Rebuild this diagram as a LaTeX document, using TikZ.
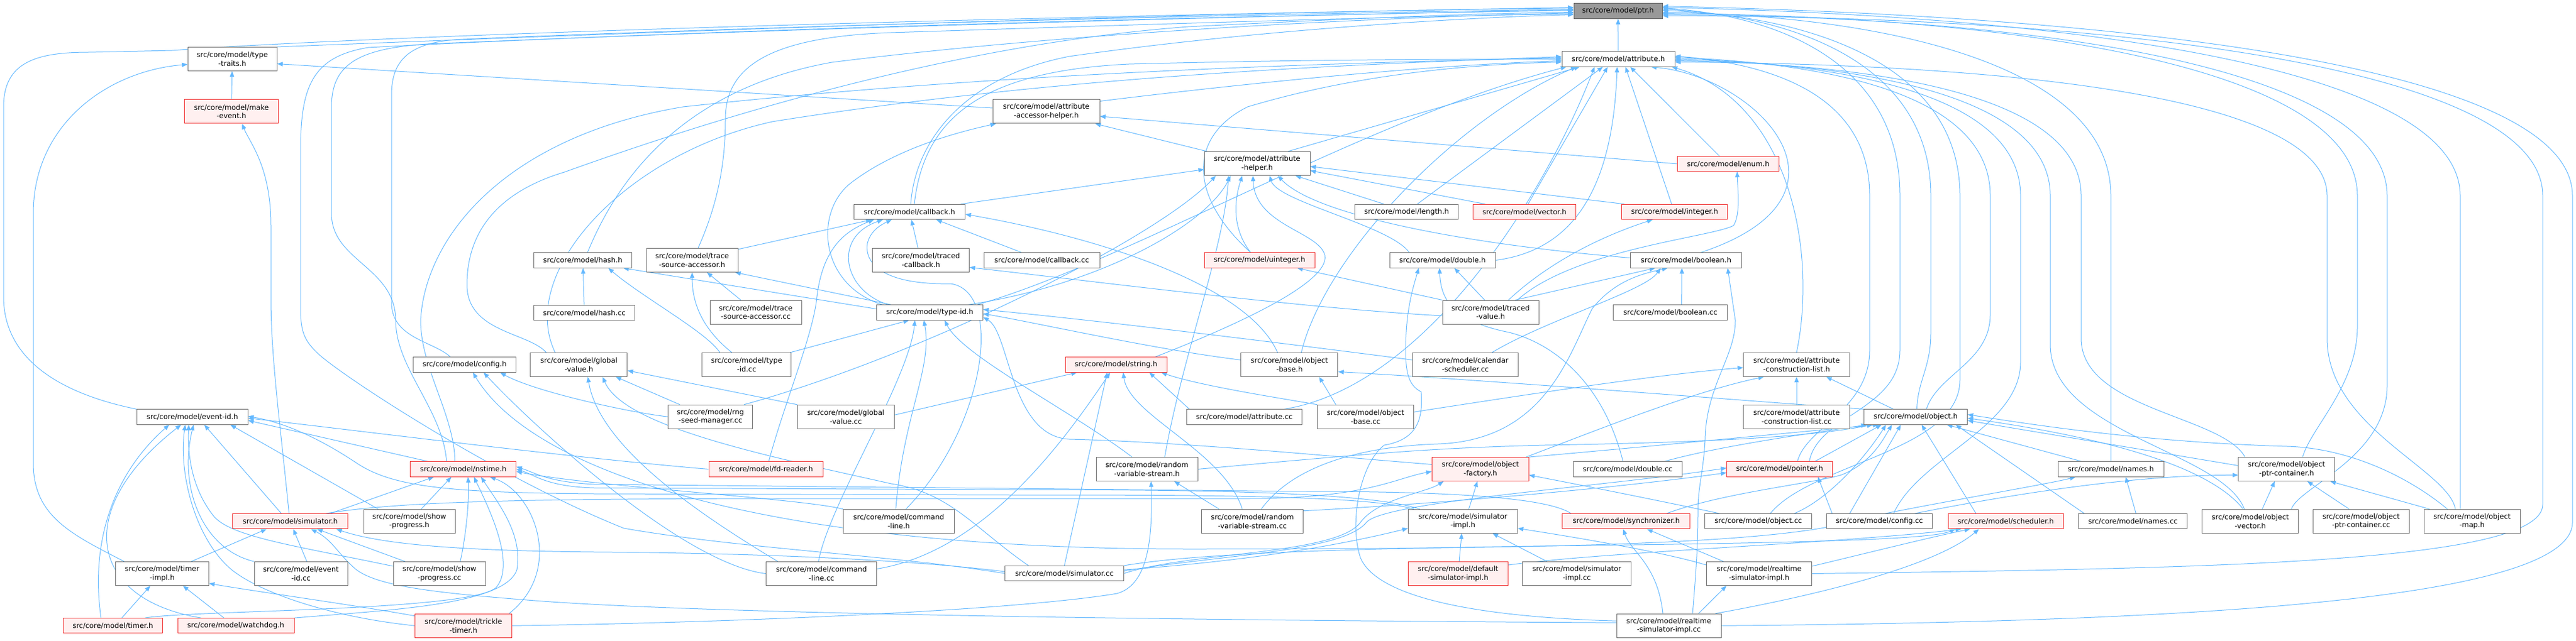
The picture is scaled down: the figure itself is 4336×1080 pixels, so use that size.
\documentclass[tikz,border=0pt]{standalone}
\usepackage{fontspec}
\setmainfont{DejaVu Sans}
\usetikzlibrary{arrows.meta,calc}
\pgfdeclarelayer{background}
\pgfsetlayers{background,main}
\definecolor{edgeblue}{RGB}{99,184,255}
\definecolor{boxline}{RGB}{110,110,110}
\definecolor{rootfill}{RGB}{153,153,153}
\definecolor{rootline}{RGB}{102,102,102}
\definecolor{truncline}{RGB}{240,50,50}
\definecolor{truncfill}{RGB}{255,240,240}
\tikzset{
  file/.style={draw=boxline, fill=white, line width=0.75pt, align=center, inner sep=1.5pt,
    minimum height=19pt, font=\fontsize{9}{11.2}\selectfont},
  two/.style={minimum height=30pt},
  trunc/.style={draw=truncline, fill=truncfill},
  root/.style={draw=rootline, fill=rootfill},
  wd/.style={minimum width=#1*0.75pt},
  dep/.style={draw=edgeblue, line width=0.75pt, -{Triangle[length=7pt,width=5.5pt]}}
}
\begin{document}
\begin{tikzpicture}[x=0.75pt,y=0.75pt]
\useasboundingbox (0,0) rectangle (4336,-1080);
% files, row by row
\node[file, root, wd=149] (ptr) at (2723.5,-18.6) {src/core/model/ptr.h};
\node[file, two, wd=150] (ttraits) at (391,-99.5) {src/core/model/type\\-traits.h};
\node[file, wd=190] (attr) at (2724,-99.5) {src/core/model/attribute.h};
\node[file, two, trunc, wd=158] (mkevent) at (389.5,-188) {src/core/model/make\\-event.h};
\node[file, two, wd=180] (aah) at (1761,-188) {src/core/model/attribute\\-accessor-helper.h};
\node[file, two, wd=178] (ahelper) at (2116,-275.5) {src/core/model/attribute\\-helper.h};
\node[file, trunc, wd=171] (enumh) at (2909,-276) {src/core/model/enum.h};
\node[file, wd=187] (cbh) at (1531,-357) {src/core/model/callback.h};
\node[file, wd=174] (lengthh) at (2367.6,-357) {src/core/model/length.h};
\node[file, trunc, wd=173] (vectorh) at (2566,-357) {src/core/model/vector.h};
\node[file, trunc, wd=178] (integerh) at (2818.7,-357) {src/core/model/integer.h};
\node[file, wd=165] (hashh) at (981,-438.5) {src/core/model/hash.h};
\node[file, two, wd=154] (tsah) at (1165,-438.5) {src/core/model/trace\\-source-accessor.h};
\node[file, two, wd=163] (tcb) at (1550,-438.5) {src/core/model/traced\\-callback.h};
\node[file, wd=195] (cbcc) at (1753.5,-438.5) {src/core/model/callback.cc};
\node[file, trunc, wd=186] (uintegerh) at (2120,-438.5) {src/core/model/uinteger.h};
\node[file, wd=178] (doubleh) at (2428,-438.5) {src/core/model/double.h};
\node[file, wd=187] (booleanh) at (2838,-438.5) {src/core/model/boolean.h};
\node[file, wd=170] (hashcc) at (983.5,-527) {src/core/model/hash.cc};
\node[file, two, wd=154] (tsacc) at (1272,-526) {src/core/model/trace\\-source-accessor.cc};
\node[file, wd=179] (typeidh) at (1565,-526.5) {src/core/model/type-id.h};
\node[file, two, wd=162] (tvalue) at (2509,-526) {src/core/model/traced\\-value.h};
\node[file, wd=192] (booleancc) at (2811.6,-526.5) {src/core/model/boolean.cc};
\node[file, wd=173] (configh) at (782,-614.5) {src/core/model/config.h};
\node[file, two, wd=163] (gvh) at (974.4,-614.4) {src/core/model/global\\-value.h};
\node[file, two, wd=150] (typeidcc) at (1256.7,-614.4) {src/core/model/type\\-id.cc};
\node[file, trunc, wd=171] (stringh) at (1878.6,-614.5) {src/core/model/string.h};
\node[file, two, wd=163] (obaseh) at (2170.4,-614.4) {src/core/model/object\\-base.h};
\node[file, two, wd=178] (calcc) at (2466.5,-614.4) {src/core/model/calendar\\-scheduler.cc};
\node[file, two, wd=179] (aclh) at (3024,-614.4) {src/core/model/attribute\\-construction-list.h};
\node[file, wd=187] (eventidh) at (323.8,-702.5) {src/core/model/event-id.h};
\node[file, two, wd=142] (rngcc) at (1195.8,-702.2) {src/core/model/rng\\-seed-manager.cc};
\node[file, two, wd=163] (gvcc) at (1423.7,-702.2) {src/core/model/global\\-value.cc};
\node[file, wd=194] (attrcc) at (2094.5,-702.5) {src/core/model/attribute.cc};
\node[file, two, wd=162] (obasecc) at (2298.5,-702.2) {src/core/model/object\\-base.cc};
\node[file, two, wd=179] (aclcc) at (3024,-702.2) {src/core/model/attribute\\-construction-list.cc};
\node[file, wd=174] (objecth) at (3224.5,-702.5) {src/core/model/object.h};
\node[file, trunc, wd=178] (nstimeh) at (779.7,-790.5) {src/core/model/nstime.h};
\node[file, trunc, wd=192] (fdreader) at (1289,-790.5) {src/core/model/fd-reader.h};
\node[file, two, wd=171] (rvsh) at (1930.5,-790.5) {src/core/model/random\\-variable-stream.h};
\node[file, two, trunc, wd=163] (ofactory) at (2491.8,-790.5) {src/core/model/object\\-factory.h};
\node[file, wd=183] (doublecc) at (2739.8,-790.5) {src/core/model/double.cc};
\node[file, trunc, wd=178] (pointerh) at (2995.5,-790.5) {src/core/model/pointer.h};
\node[file, wd=178] (namesh) at (3553,-790.5) {src/core/model/names.h};
\node[file, two, wd=162] (optrch) at (3848.8,-790.5) {src/core/model/object\\-ptr-container.h};
\node[file, trunc, wd=194] (simh) at (488.6,-878.3) {src/core/model/simulator.h};
\node[file, two, wd=154] (sprogh) at (689,-878.2) {src/core/model/show\\-progress.h};
\node[file, two, wd=187] (clh) at (1512.8,-878.2) {src/core/model/command\\-line.h};
\node[file, two, wd=171] (rvscc) at (2108,-878.2) {src/core/model/random\\-variable-stream.cc};
\node[file, two, wd=184] (simimplh) at (2462.3,-878.2) {src/core/model/simulator\\-impl.h};
\node[file, trunc, wd=215] (synch) at (2737.3,-878.3) {src/core/model/synchronizer.h};
\node[file, wd=180] (objectcc) at (2959.7,-878.3) {src/core/model/object.cc};
\node[file, wd=178] (configcc) at (3163.4,-878.3) {src/core/model/config.cc};
\node[file, trunc, wd=194] (schedh) at (3376,-878.3) {src/core/model/scheduler.h};
\node[file, wd=183] (namescc) at (3590.3,-878.3) {src/core/model/names.cc};
\node[file, two, wd=162] (ovech) at (3787.8,-878.2) {src/core/model/object\\-vector.h};
\node[file, two, wd=162] (optrccc) at (3974.2,-878.2) {src/core/model/object\\-ptr-container.cc};
\node[file, two, wd=162] (omaph) at (4161,-878.2) {src/core/model/object\\-map.h};
\node[file, two, wd=157] (timerimplh) at (273,-966.5) {src/core/model/timer\\-impl.h};
\node[file, two, wd=157] (eventidcc) at (506.5,-966.5) {src/core/model/event\\-id.cc};
\node[file, two, wd=155] (sprogcc) at (739.7,-966.5) {src/core/model/show\\-progress.cc};
\node[file, two, wd=186] (clcc) at (1382.7,-966.5) {src/core/model/command\\-line.cc};
\node[file, wd=200] (simcc) at (1791.6,-966.1) {src/core/model/simulator.cc};
\node[file, two, trunc, wd=168] (defsimh) at (2454.2,-966.5) {src/core/model/default\\-simulator-impl.h};
\node[file, two, wd=183] (simimplcc) at (2654,-966.5) {src/core/model/simulator\\-impl.cc};
\node[file, two, wd=177] (rtsimh) at (2961,-966.5) {src/core/model/realtime\\-simulator-impl.h};
\node[file, trunc, wd=167] (timerh) at (190,-1054.3) {src/core/model/timer.h};
\node[file, trunc, wd=196] (watchdogh) at (397,-1054.3) {src/core/model/watchdog.h};
\node[file, two, trunc, wd=163] (trickleh) at (780,-1054.2) {src/core/model/trickle\\-timer.h};
\node[file, two, wd=176] (rtsimcc) at (2809,-1054.2) {src/core/model/realtime\\-simulator-impl.cc};

\begin{pgfonlayer}{background}
% straight includes
\foreach \s/\t in {attr/ptr, mkevent/ttraits, hashcc/hashh, tcb/cbh, aclcc/aclh, defsimh/simimplh}
  \draw[dep] (\s) -- (\t);
% into ptr.h from the left
\draw[dep] (ttraits.north east) .. controls (900,-62) and (1900,-22) .. ($(ptr.west)+(0,5)$);
\draw[dep] (eventidh.north west) .. controls (110,-665) and (6,-610) .. (6,-500) -- (6,-180) .. controls (6,-105) and (60,-88) .. (150,-88) -- (290,-85) .. controls (600,-62) and (1500,-32) .. ($(ptr.west)+(0,6)$);
\draw[dep] ($(nstimeh.north)+(-28,0)$) .. controls (745,-690) and (666,-620) .. (666,-540) .. controls (666,-450) and (558,-440) .. (558,-360) -- (558,-180) .. controls (558,-110) and (600,-82) .. (720,-74) .. controls (1400,-45) and (2200,-25) .. ($(ptr.west)+(0,2)$);
\draw[dep] ($(configh.north)+(-24,0)$) .. controls (730,-575) and (659,-570) .. (659,-510) -- (659,-160) .. controls (659,-100) and (690,-70) .. (780,-66) .. controls (1400,-40) and (2200,-22) .. ($(ptr.west)+(0,3)$);
\draw[dep] (simcc.west) .. controls (1500,-935) and (1250,-925) .. (1050,-890) .. controls (850,-810) and (600,-650) .. (540,-600) .. controls (512,-575) and (506,-560) .. (506,-520) -- (506,-250) .. controls (506,-140) and (530,-95) .. (620,-80) .. controls (1300,-45) and (2200,-24) .. ($(ptr.west)+(0,1)$);
\draw[dep] ($(gvh.north)+(-55,0)$) .. controls (890,-560) and (786,-560) .. (786,-480) .. controls (786,-380) and (850,-320) .. (950,-290) .. controls (1200,-200) and (1600,-75) .. (2000,-45) .. controls (2300,-30) and (2500,-22) .. ($(ptr.west)+(0,-2)$);
\draw[dep] ($(hashh.north)+(8,0)$) .. controls (1040,-300) and (1150,-150) .. (1400,-105) .. controls (1800,-55) and (2300,-30) .. ($(ptr.west)+(0,-3)$);
\draw[dep] ($(tsah.north)+(10,0)$) .. controls (1210,-340) and (1221,-270) .. (1221,-200) .. controls (1221,-110) and (1300,-62) .. (1500,-55) .. controls (1900,-42) and (2400,-26) .. ($(ptr.west)+(0,-5)$);
\draw[dep] ($(cbh.north)+(2,0)$) .. controls (1540,-240) and (1620,-130) .. (1800,-95) .. controls (2100,-52) and (2450,-30) .. ($(ptr.west)+(0,-6)$);
% into ptr.h from the right
\draw[dep] (namesh.north) -- (3553,-330) .. controls (3553,-110) and (3176,-27) .. ($(ptr.east)+(0,-2)$);
\draw[dep] ($(objecth.north)+(2,0)$) .. controls (3228,-640) and (3250,-620) .. (3250,-560) -- (3250,-330) .. controls (3250,-110) and (3025,-27) .. ($(ptr.east)+(0,3)$);
\draw[dep] ($(objectcc.north)+(20,0)$) .. controls (3050,-780) and (3299,-760) .. (3299,-640) -- (3299,-330) .. controls (3299,-110) and (3050,-27) .. ($(ptr.east)+(0,1)$);
\draw[dep] ($(pointerh.north)+(50,0)$) .. controls (3060,-700) and (3198,-690) .. (3198,-590) -- (3198,-330) .. controls (3198,-110) and (3000,-27) .. ($(ptr.east)+(0,5)$);
\draw[dep] ($(optrch.north)+(27,0)$) .. controls (3890,-720) and (3968,-650) .. (3968,-550) -- (3968,-330) .. controls (3968,-110) and (3384,-27) .. ($(ptr.east)+(0,-4)$);
\draw[dep] ($(ovech.north)+(69,0)$) .. controls (3870,-820) and (4018,-770) .. (4018,-650) -- (4018,-330) .. controls (4018,-110) and (3409,-27) .. ($(ptr.east)+(0,-6)$);
\draw[dep] ($(omaph.north)+(-20,0)$) -- (4141,-330) .. controls (4141,-110) and (3470,-27) .. ($(ptr.east)+(0,6)$);
\draw[dep] (rtsimh.east) .. controls (3700,-958) and (4280,-950) .. (4280,-850) -- (4280,-330) .. controls (4280,-110) and (3540,-27) .. ($(ptr.east)+(0,-8)$);
\draw[dep] (rtsimcc.east) .. controls (3700,-1048) and (4330,-1010) .. (4330,-880) -- (4330,-330) .. controls (4330,-110) and (3565,-27) .. ($(ptr.east)+(0,8)$);
% into attribute.h
\draw[dep] ($(aah.north east)+(0,-3)$) .. controls (2100,-140) and (2400,-110) .. ($(attr.west)+(0,-3)$);
\draw[dep] ($(ahelper.north)+(52,0)$) -- ($(attr.south)+(-65,0)$);
\draw[dep] ($(enumh.north)+(-15,0)$) -- ($(attr.south)+(20,0)$);
\draw[dep] ($(cbh.north)+(8,0)$) .. controls (1555,-200) and (1650,-120) .. (1900,-108) .. controls (2200,-100) and (2450,-100) .. (attr.west);
\draw[dep] ($(lengthh.north)+(18,0)$) -- ($(attr.south)+(-26,0)$);
\draw[dep] ($(vectorh.north)+(6,0)$) -- ($(attr.south)+(-18,0)$);
\draw[dep] ($(integerh.north)+(-5,0)$) -- ($(attr.south)+(12,0)$);
\draw[dep] (doubleh.east) .. controls (2660,-420) and (2715,-300) .. ($(attr.south)+(-2,0)$);
\draw[dep] ($(booleanh.north)+(25,0)$) .. controls (3150,-330) and (2960,-130) .. ($(attr.south)+(55,0)$);
\draw[dep] (aclh.north) .. controls (3060,-420) and (3010,-170) .. ($(attr.south)+(90,0)$);
\draw[dep] ($(uintegerh.north)+(-15,0)$) .. controls (2000,-330) and (2000,-230) .. (2100,-180) .. controls (2300,-120) and (2500,-108) .. ($(attr.west)+(0,-5)$);
\draw[dep] ($(typeidh.north east)+(-10,0)$) .. controls (1900,-440) and (2300,-200) .. ($(attr.south west)+(8,0)$);
\draw[dep] ($(nstimeh.north)+(-14,0)$) .. controls (765,-700) and (708,-620) .. (708,-540) .. controls (715,-400) and (850,-230) .. (1150,-180) .. controls (1700,-120) and (2300,-105) .. ($(attr.west)+(0,2)$);
\draw[dep] ($(gvh.north)+(-40,0)$) .. controls (870,-460) and (1050,-260) .. (1300,-205) .. controls (1800,-125) and (2300,-108) .. ($(attr.west)+(0,4)$);
\draw[dep] ($(obaseh.north)+(20,0)$) .. controls (2230,-430) and (2450,-200) .. ($(attr.south west)+(25,0)$);
\draw[dep] ($(attrcc.north east)+(-30,0)$) .. controls (2400,-650) and (2600,-330) .. ($(attr.south)+(-40,0)$);
\draw[dep] ($(pointerh.north)+(30,0)$) .. controls (3040,-720) and (3147,-690) .. (3147,-590) -- (3147,-330) .. controls (3147,-160) and (2983,-108) .. ($(attr.east)+(0,5)$);
\draw[dep] ($(objecth.north)+(18,0)$) .. controls (3262,-630) and (3350,-610) .. (3350,-530) -- (3350,-330) .. controls (3350,-160) and (3085,-108) .. ($(attr.east)+(0,3)$);
\draw[dep] ($(configcc.north)+(24,0)$) .. controls (3230,-770) and (3401,-720) .. (3401,-610) -- (3401,-330) .. controls (3401,-160) and (3110,-108) .. ($(attr.east)+(0,1)$);
\draw[dep] ($(ovech.north)+(-10,0)$) .. controls (3740,-760) and (3451,-730) .. (3451,-580) -- (3451,-330) .. controls (3451,-160) and (3135,-108) .. ($(attr.east)+(0,-1)$);
\draw[dep] ($(optrch.north)+(-70,0)$) .. controls (3740,-700) and (3503,-690) .. (3503,-570) -- (3503,-330) .. controls (3503,-160) and (3161,-108) .. ($(attr.east)+(0,-3)$);
\draw[dep] ($(omaph.north)+(-28,0)$) .. controls (4120,-790) and (3917,-720) .. (3917,-570) -- (3917,-330) .. controls (3917,-160) and (3368,-108) .. ($(attr.east)+(0,-5)$);
% type-traits.h, attribute-accessor-helper.h
\draw[dep] ($(aah.west)+(0,6)$) -- ($(ttraits.east)+(0,-8)$);
\draw[dep] ($(timerimplh.north west)+(15,0)$) .. controls (120,-900) and (56,-870) .. (56,-780) -- (56,-360) .. controls (56,-210) and (180,-120) .. ($(ttraits.west)+(0,-9)$);
\draw[dep] ($(ahelper.north west)+(5,0)$) -- ($(aah.south east)+(-8,0)$);
\draw[dep] (enumh.west) -- ($(aah.east)+(0,-8)$);
\draw[dep] ($(typeidh.north west)+(10,0)$) .. controls (1380,-480) and (1370,-360) .. (1430,-310) .. controls (1500,-255) and (1600,-225) .. ($(aah.south west)+(6,0)$);
% attribute-helper.h
\draw[dep] ($(cbh.north east)+(-8,0)$) -- ($(ahelper.west)+(0,-10)$);
\draw[dep] ($(lengthh.north)+(-38,0)$) -- ($(ahelper.south east)+(-25,0)$);
\draw[dep] ($(vectorh.north)+(-66,0)$) -- ($(ahelper.east)+(0,-12)$);
\draw[dep] ($(integerh.north west)+(5,0)$) -- ($(ahelper.east)+(0,-5)$);
\draw[dep] ($(uintegerh.north)+(-15,0)$) .. controls (2070,-380) and (2080,-330) .. ($(ahelper.south)+(-25,0)$);
\draw[dep] ($(doubleh.north)+(-56,0)$) .. controls (2340,-380) and (2150,-340) .. ($(ahelper.south)+(21,0)$);
\draw[dep] ($(booleanh.west)+(0,4)$) .. controls (2450,-410) and (2210,-360) .. ($(ahelper.south)+(35,0)$);
\draw[dep] ($(typeidh.north east)+(-25,0)$) .. controls (1850,-480) and (2030,-380) .. ($(ahelper.south west)+(45,0)$);
\draw[dep] ($(stringh.north east)+(-20,0)$) .. controls (2050,-560) and (2240,-480) .. (2230,-430) .. controls (2220,-390) and (2112,-380) .. ($(ahelper.south)+(-7,0)$);
\draw[dep] ($(rngcc.north east)+(-15,0)$) .. controls (1550,-600) and (1950,-400) .. ($(ahelper.south west)+(20,0)$);
\draw[dep] ($(rvsh.north)+(30,0)$) .. controls (1990,-600) and (2060,-420) .. ($(ahelper.south)+(-48,0)$);
% callback.h
\draw[dep] ($(tsah.north east)+(0,-2)$) -- ($(cbh.south west)+(30,0)$);
\draw[dep] ($(cbcc.north)+(-34,0)$) -- ($(cbh.south)+(45,0)$);
\draw[dep] ($(typeidh.north west)+(20,0)$) .. controls (1420,-490) and (1400,-400) .. ($(cbh.south)+(-45,0)$);
\draw[dep] ($(fdreader.north)+(5,0)$) .. controls (1320,-680) and (1370,-560) .. (1375,-500) .. controls (1385,-420) and (1420,-390) .. ($(cbh.south)+(-60,0)$);
\draw[dep] ($(obaseh.north)+(-20,0)$) .. controls (2100,-480) and (1850,-400) .. ($(cbh.east)+(0,-4)$);
\draw[dep] ($(clh.north)+(12,0)$) .. controls (1660,-720) and (1690,-490) .. (1600,-478) .. controls (1480,-480) and (1455,-440) .. (1460,-410) .. controls (1465,-390) and (1480,-380) .. ($(cbh.south)+(-30,0)$);
% hash.h, trace-source-accessor.h
\draw[dep] ($(typeidh.west)+(0,6)$) -- ($(hashh.south east)+(-15,0)$);
\draw[dep] ($(typeidcc.north)+(-45,0)$) .. controls (1190,-560) and (1080,-500) .. ($(hashh.south east)+(-40,0)$);
\draw[dep] (tsacc) -- ($(tsah.south)+(25,0)$);
\draw[dep] ($(typeidh.north west)+(25,0)$) -- ($(tsah.south east)+(-5,0)$);
\draw[dep] ($(typeidcc.north)+(-25,0)$) .. controls (1190,-560) and (1165,-520) .. (tsah.south);
% traced-value.h and boolean.cc
\draw[dep] ($(tvalue.north)+(-10,0)$) -- ($(doubleh.south)+(20,0)$);
\draw[dep] ($(tvalue.north east)+(-40,0)$) -- ($(booleanh.south)+(-52,0)$);
\draw[dep] ($(tvalue.north)+(30,0)$) .. controls (2620,-430) and (2720,-390) .. ($(integerh.south)+(-37,0)$);
\draw[dep] ($(tvalue.north)+(45,0)$) .. controls (2650,-420) and (2880,-400) .. (2918,-380) .. controls (2930,-360) and (2925,-320) .. ($(enumh.south)+(15,0)$);
\draw[dep] (tvalue.north west) -- ($(uintegerh.south east)+(-30,0)$);
\draw[dep] ($(tvalue.west)+(0,-6)$) .. controls (2200,-520) and (1850,-475) .. ($(tcb.east)+(0,-12)$);
\draw[dep] ($(booleancc.north)+(19,0)$) -- ($(booleanh.south)+(-7,0)$);
% object-base.h, type-id.h, calendar-scheduler.cc
\draw[dep] ($(obasecc.north)+(-50,0)$) -- ($(obaseh.south)+(50,0)$);
\draw[dep] (objecth.north west) .. controls (3000,-680) and (2500,-640) .. ($(obaseh.east)+(0,-12)$);
\draw[dep] ($(obaseh.west)+(0,8)$) .. controls (1950,-590) and (1750,-545) .. ($(typeidh.east)+(0,-2)$);
\draw[dep] ($(calcc.west)+(0,8)$) .. controls (2250,-590) and (1900,-545) .. ($(typeidh.east)+(0,5)$);
\draw[dep] ($(calcc.north)+(45,0)$) .. controls (2600,-540) and (2770,-490) .. ($(booleanh.south)+(-43,0)$);
\draw[dep] ($(typeidcc.north east)+(-2,0)$) -- ($(typeidh.south)+(-35,0)$);
\draw[dep] ($(rvsh.north)+(-25,0)$) .. controls (1800,-690) and (1620,-600) .. ($(typeidh.south)+(25,0)$);
\draw[dep] ($(clh.north)+(-5,0)$) .. controls (1520,-700) and (1570,-620) .. ($(typeidh.south)+(-10,0)$);
\draw[dep] ($(clcc.north)+(-5,0)$) .. controls (1395,-850) and (1530,-640) .. ($(typeidh.south)+(-25,0)$);
\draw[dep] ($(ofactory.west)+(0,8)$) .. controls (2250,-770) and (2000,-745) .. (1800,-740) .. controls (1700,-735) and (1700,-560) .. ($(typeidh.east)+(0,-8)$);
% string.h
\draw[dep] ($(gvcc.east)+(0,3)$) -- ($(stringh.south west)+(20,0)$);
\draw[dep] ($(attrcc.north west)+(5,0)$) -- ($(stringh.south east)+(-30,0)$);
\draw[dep] (obasecc.north west) .. controls (2150,-670) and (2020,-650) .. ($(stringh.south east)+(-10,0)$);
\draw[dep] ($(rvscc.north)+(-17,0)$) .. controls (2060,-760) and (1900,-700) .. ($(stringh.south)+(12,0)$);
\draw[dep] ($(clcc.east)+(0,8)$) .. controls (1650,-930) and (1780,-760) .. ($(stringh.south)+(-10,0)$);
\draw[dep] (simcc.north) -- ($(stringh.south)+(-15,0)$);
% global-value.h, config.h
\draw[dep] ($(rngcc.north west)+(20,0)$) -- ($(gvh.south east)+(-20,0)$);
\draw[dep] (gvcc.north west) -- ($(gvh.east)+(0,-10)$);
\draw[dep] ($(clcc.north west)+(20,0)$) .. controls (1200,-880) and (1010,-760) .. ($(gvh.south)+(15,0)$);
\draw[dep] ($(simcc.north west)+(40,0)$) .. controls (1640,-890) and (1600,-830) .. (1500,-815) .. controls (1300,-770) and (1050,-720) .. ($(gvh.south)+(40,0)$);
\draw[dep] (rngcc.west) .. controls (1060,-695) and (900,-660) .. ($(configh.south)+(60,0)$);
\draw[dep] (clcc.west) .. controls (1150,-950) and (900,-720) .. ($(configh.south)+(32,0)$);
\draw[dep] ($(configcc.south west)+(0,3)$) .. controls (2900,-920) and (2500,-925) .. (2000,-925) .. controls (1300,-925) and (900,-800) .. ($(configh.south)+(14,0)$);
% event-id.h
\draw[dep] ($(nstimeh.north west)+(30,0)$) -- ($(eventidh.east)+(0,-6)$);
\draw[dep] (fdreader.west) .. controls (950,-770) and (600,-725) .. ($(eventidh.east)+(0,-2)$);
\draw[dep] ($(simimplh.north west)+(10,0)$) .. controls (2300,-834) and (2000,-834) .. (1700,-834) -- (1000,-832) .. controls (750,-830) and (660,-820) .. (600,-780) .. controls (540,-740) and (480,-712) .. ($(eventidh.east)+(0,1)$);
\draw[dep] ($(simh.north)+(-15,0)$) -- ($(eventidh.south)+(20,0)$);
\draw[dep] ($(sprogh.north west)+(25,0)$) -- ($(eventidh.south east)+(-30,0)$);
\draw[dep] (eventidcc.north west) .. controls (340,-925) and (300,-820) .. ($(eventidh.south)+(2,0)$);
\draw[dep] ($(sprogcc.north west)+(0,-8)$) .. controls (500,-920) and (390,-905) .. (360,-870) .. controls (320,-820) and (316,-760) .. ($(eventidh.south)+(-6,0)$);
\draw[dep] ($(timerh.north)+(-20,0)$) .. controls (150,-900) and (200,-790) .. ($(eventidh.south west)+(55,0)$);
\draw[dep] ($(watchdogh.north west)+(40,0)$) .. controls (150,-1010) and (120,-860) .. ($(eventidh.south west)+(75,0)$);
\draw[dep] (trickleh.west) .. controls (560,-1040) and (440,-1000) .. (390,-960) .. controls (330,-910) and (300,-800) .. ($(eventidh.south)+(-12,0)$);
% nstime.h
\draw[dep] ($(simh.north east)+(-30,0)$) -- ($(nstimeh.south west)+(40,0)$);
\draw[dep] ($(sprogh.north)+(20,0)$) -- ($(nstimeh.south)+(-20,0)$);
\draw[dep] ($(sprogcc.north)+(35,0)$) .. controls (785,-900) and (790,-840) .. ($(nstimeh.south)+(8,0)$);
\draw[dep] ($(timerh.north east)+(-30,0)$) .. controls (320,-1028) and (790,-1030) .. (835,-990) .. controls (870,-950) and (820,-850) .. ($(nstimeh.south)+(18,0)$);
\draw[dep] (watchdogh.north east) .. controls (650,-1028) and (850,-1020) .. (870,-960) .. controls (880,-900) and (840,-850) .. ($(nstimeh.south)+(30,0)$);
\draw[dep] ($(trickleh.north east)+(-5,0)$) .. controls (950,-960) and (900,-830) .. ($(nstimeh.south)+(45,0)$);
\draw[dep] (clh.north west) .. controls (1350,-840) and (1000,-820) .. ($(nstimeh.east)+(0,-4)$);
\draw[dep] ($(simimplh.north west)+(20,0)$) .. controls (2300,-828) and (2000,-825) .. (1700,-825) -- (1000,-822) .. controls (920,-820) and (900,-800) .. (nstimeh.east);
\draw[dep] ($(synch.north west)+(15,0)$) .. controls (2600,-835) and (2400,-828) .. (2200,-828) -- (1000,-816) .. controls (920,-812) and (900,-796) .. ($(nstimeh.east)+(0,4)$);
% simulator.h, make-event.h, timer-impl.h
\draw[dep] ($(timerimplh.north east)+(-30,0)$) -- ($(simh.south)+(-40,0)$);
\draw[dep] ($(eventidcc.north)+(10,0)$) -- ($(simh.south)+(5,0)$);
\draw[dep] ($(sprogcc.north west)+(20,0)$) -- ($(simh.south)+(45,0)$);
\draw[dep] ($(simcc.west)+(0,3)$) .. controls (1550,-945) and (1300,-932) .. (1000,-930) .. controls (800,-928) and (650,-920) .. ($(simh.south east)+(-20,0)$);
\draw[dep] ($(rtsimcc.west)+(0,5)$) .. controls (2000,-1045) and (1200,-1035) .. (900,-1012) .. controls (750,-1000) and (640,-990) .. (600,-960) .. controls (570,-935) and (560,-910) .. ($(simh.south)+(35,0)$);
\draw[dep] ($(simh.north)+(-2,0)$) .. controls (470,-700) and (456,-600) .. (456,-500) -- (456,-380) .. controls (456,-280) and (420,-240) .. ($(mkevent.south)+(18,0)$);
\draw[dep] ($(timerh.north)+(15,0)$) -- ($(timerimplh.south)+(-20,0)$);
\draw[dep] ($(watchdogh.north)+(-20,0)$) -- ($(timerimplh.south)+(35,0)$);
\draw[dep] ($(trickleh.north west)+(0,-4)$) .. controls (600,-1020) and (420,-995) .. ($(timerimplh.south east)+(0,4)$);
% random-variable-stream.h, object-factory.h
\draw[dep] ($(rvscc.north west)+(30,0)$) -- ($(rvsh.south east)+(-40,0)$);
\draw[dep] (trickleh.east) .. controls (1200,-1050) and (1700,-1030) .. (1880,-1000) .. controls (1935,-985) and (1940,-900) .. ($(rvsh.south)+(7,0)$);
\draw[dep] (rvsh.east) .. controls (2300,-765) and (2400,-755) .. (2600,-750) .. controls (2900,-745) and (3050,-735) .. ($(objecth.south west)+(15,0)$);
\draw[dep] ($(simimplh.north)+(10,0)$) -- ($(ofactory.south)+(-5,0)$);
\draw[dep] ($(simh.north)+(60,0)$) .. controls (700,-840) and (1000,-840) .. (1500,-840) -- (2100,-840) .. controls (2300,-840) and (2350,-805) .. ($(ofactory.west)+(0,-4)$);
\draw[dep] ($(objectcc.north west)+(25,0)$) .. controls (2800,-845) and (2650,-815) .. ($(ofactory.east)+(0,-10)$);
\draw[dep] (simcc.east) .. controls (2000,-930) and (2250,-935) .. (2290,-880) .. controls (2320,-840) and (2400,-830) .. ($(ofactory.south west)+(20,0)$);
% object.h and attribute-construction-list.h
\draw[dep] ($(objecth.north west)+(50,0)$) -- ($(aclh.south east)+(-40,0)$);
\draw[dep] ($(ofactory.north east)+(-5,0)$) .. controls (2700,-720) and (2850,-660) .. ($(aclh.south)+(-55,0)$);
\draw[dep] ($(obasecc.east)+(0,8)$) .. controls (2600,-660) and (2800,-630) .. ($(aclh.west)+(0,-5)$);
\draw[dep] (ofactory.north east) .. controls (2750,-755) and (3000,-730) .. ($(objecth.south west)+(25,0)$);
\draw[dep] ($(doublecc.north east)+(-30,0)$) .. controls (2900,-750) and (3050,-730) .. ($(objecth.south west)+(5,0)$);
\draw[dep] ($(pointerh.north east)+(-30,0)$) -- ($(objecth.south west)+(30,0)$);
\draw[dep] ($(namesh.north west)+(40,0)$) -- ($(objecth.south east)+(-35,0)$);
\draw[dep] ($(optrch.west)+(0,6)$) -- ($(objecth.east)+(0,-6)$);
\draw[dep] ($(synch.north east)+(-40,0)$) .. controls (2900,-830) and (3050,-815) .. (3100,-800) .. controls (3150,-780) and (3170,-740) .. ($(objecth.south)+(-40,0)$);
\draw[dep] ($(objectcc.north east)+(-30,0)$) .. controls (3080,-840) and (3140,-770) .. ($(objecth.south)+(-50,0)$);
\draw[dep] ($(configcc.north)+(-50,0)$) -- ($(objecth.south)+(-25,0)$);
\draw[dep] ($(schedh.north)+(-50,0)$) -- ($(objecth.south)+(10,0)$);
\draw[dep] ($(namescc.north west)+(10,0)$) -- ($(objecth.south east)+(-20,0)$);
\draw[dep] ($(ovech.north)+(-12,0)$) .. controls (3730,-800) and (3600,-745) .. ($(objecth.east)+(0,-2)$);
\draw[dep] ($(omaph.north west)+(40,0)$) .. controls (4050,-800) and (3950,-755) .. (3850,-752) .. controls (3600,-745) and (3400,-712) .. ($(objecth.east)+(0,4)$);
% double.h
\draw[dep] ($(doublecc.north)+(-8,0)$) .. controls (2700,-650) and (2620,-580) .. (2540,-560) .. controls (2440,-540) and (2425,-500) .. ($(doubleh.south)+(-5,0)$);
% names.h, object-ptr-container.h, pointer.h
\draw[dep] ($(namescc.north)+(5,0)$) -- ($(namesh.south)+(25,0)$);
\draw[dep] ($(configcc.north)+(10,0)$) .. controls (3300,-840) and (3450,-815) .. ($(namesh.south west)+(30,0)$);
\draw[dep] ($(configcc.north east)+(-30,0)$) .. controls (3400,-830) and (3600,-800) .. ($(optrch.west)+(0,-10)$);
\draw[dep] ($(ovech.north)+(20,0)$) -- ($(optrch.south)+(-20,0)$);
\draw[dep] ($(optrccc.north)+(-20,0)$) -- ($(optrch.south)+(35,0)$);
\draw[dep] ($(omaph.north west)+(10,0)$) -- ($(optrch.south east)+(-8,0)$);
\draw[dep] ($(configcc.north west)+(10,0)$) -- ($(pointerh.south east)+(-25,0)$);
\draw[dep] ($(rvscc.north east)+(0,-3)$) .. controls (2400,-850) and (2700,-825) .. ($(pointerh.west)+(0,-6)$);
\draw[dep] ($(simcc.east)+(0,4)$) .. controls (2050,-935) and (2260,-930) .. (2300,-880) .. controls (2330,-845) and (2700,-820) .. ($(pointerh.west)+(0,2)$);
% boolean.h and double.h from the .cc files below
\draw[dep] ($(rvscc.north)+(15,0)$) .. controls (2180,-780) and (2300,-752) .. (2420,-748) .. controls (2600,-742) and (2640,-600) .. (2680,-520) .. controls (2720,-470) and (2770,-460) .. ($(booleanh.south)+(-31,0)$);
\draw[dep] ($(rtsimcc.north)+(40,0)$) .. controls (2855,-960) and (2858,-920) .. (2858,-860) .. controls (2858,-820) and (2868,-790) .. (2870,-740) .. controls (2872,-650) and (2921,-600) .. (2921,-540) -- ($(booleanh.south)+(70,0)$);
\draw[dep] ($(rtsimcc.west)+(0,8)$) .. controls (2500,-1040) and (2320,-1010) .. (2290,-940) .. controls (2270,-880) and (2290,-780) .. (2330,-750) .. controls (2390,-740) and (2395,-700) .. (2392,-660) .. controls (2372,-650) and (2366,-630) .. (2366,-590) .. controls (2366,-520) and (2380,-480) .. ($(doubleh.south)+(-40,0)$);
% scheduler.h, synchronizer.h, simulator-impl.h, realtime-simulator-impl.h
\draw[dep] (simcc.north east) .. controls (2000,-935) and (2200,-925) .. (2600,-920) .. controls (3000,-915) and (3250,-910) .. ($(schedh.south)+(-85,0)$);
\draw[dep] ($(defsimh.north east)+(0,-6)$) .. controls (2700,-930) and (3100,-915) .. ($(schedh.south)+(-75,0)$);
\draw[dep] ($(rtsimh.north east)+(0,-8)$) .. controls (3150,-930) and (3250,-905) .. ($(schedh.south)+(-60,0)$);
\draw[dep] ($(rtsimcc.north east)+(-10,0)$) .. controls (3020,-1010) and (3250,-960) .. ($(schedh.south)+(-45,0)$);
\draw[dep] ($(rtsimh.north)+(-60,0)$) -- ($(synch.south)+(35,0)$);
\draw[dep] ($(rtsimcc.north)+(-10,0)$) .. controls (2790,-950) and (2745,-930) .. ($(synch.south)+(-5,0)$);
\draw[dep] ($(rtsimcc.north)+(50,0)$) -- ($(rtsimh.south)+(-55,0)$);
\draw[dep] ($(rtsimh.north west)+(0,-6)$) .. controls (2800,-930) and (2650,-905) .. ($(simimplh.east)+(0,-12)$);
\draw[dep] ($(simimplcc.north)+(-50,0)$) -- ($(simimplh.south)+(50,0)$);
\draw[dep] ($(simcc.east)+(0,6)$) .. controls (2100,-945) and (2250,-920) .. ($(simimplh.west)+(0,-12)$);
\end{pgfonlayer}
\end{tikzpicture}
\end{document}
